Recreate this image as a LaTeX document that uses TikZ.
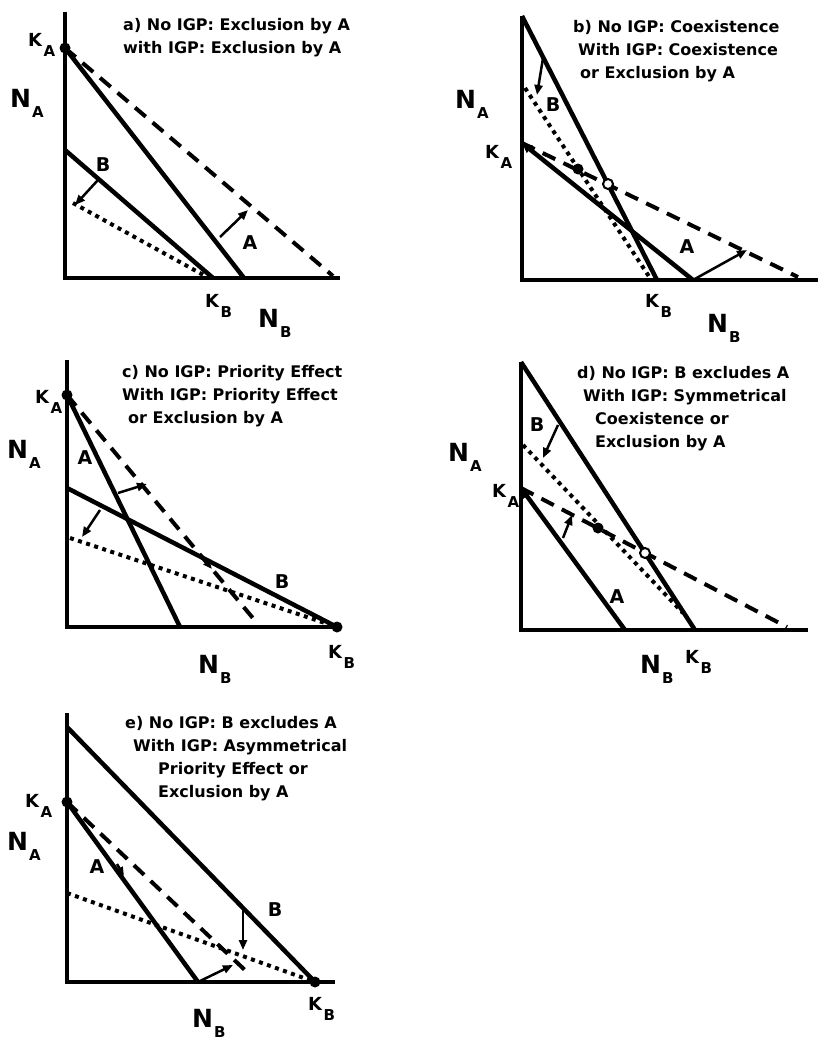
\documentclass[tikz,border=0pt]{standalone}
\usepackage{fontspec}
\setmainfont{DejaVu Sans}
\usetikzlibrary{arrows.meta}
\newcommand{\Nsub}[2]{{\fontsize{25}{25}\selectfont #1}\kern1pt\raisebox{-10pt}{\fontsize{15}{15}\selectfont #2}}
\newcommand{\Ksub}[2]{{\fontsize{18}{18}\selectfont #1}\kern1.5pt\raisebox{-10pt}{\fontsize{15}{15}\selectfont #2}}
\tikzset{
	axisline/.style={line width=4.5pt, line join=miter},
	iso/.style={line width=4.5pt},
	isodash/.style={line width=4pt, dash pattern=on 14pt off 9pt},
	isodot/.style={line width=4pt, dash pattern=on 4pt off 4.5pt},
	push/.style={line width=2.5pt, -{Triangle[length=10pt,width=8pt]}},
	minitip/.style={line width=2.5pt, -{Triangle[length=9pt,width=7pt]}},
	eq/.style={circle, fill=black, inner sep=0pt, minimum size=11pt},
	eqopen/.style={circle, draw, line width=2pt, fill=white, inner sep=0pt, minimum size=10pt},
	paneltitle/.style={anchor=north west, align=left, inner sep=0pt,
		font=\bfseries\fontsize{16}{23}\selectfont},
	lab/.style={anchor=base west, inner sep=0pt, font=\bfseries},
	linelab/.style={inner sep=0pt, font=\bfseries\fontsize{19}{19}\selectfont}
}
\begin{document}
\begin{tikzpicture}[x=1pt, y=-1pt]
	\useasboundingbox (0,0) rectangle (819,1041);

	% a)
	\coordinate (a-top) at (65,12);
	\coordinate (a-o) at (65,278);
	\coordinate (a-end) at (340,278);
	\coordinate (a-KA) at (65,48);
	\coordinate (a-KB) at (213,278);
	\coordinate (a-Ax) at (244,278);
	\coordinate (a-By) at (65,150);
	\draw[axisline] (a-top) -- (a-o) -- (a-end);
	\draw[iso] (a-KA) -- (a-Ax);
	\draw[iso] (a-By) -- (a-KB);
	\draw[isodash] (a-KA) -- (333,276);
	\draw[isodot] (73,203) -- (207,277);
	\draw[push] (98,180) -- (75,205);
	\draw[push] (220,237) -- (248,210);
	\node[eq] (a-dot) at (a-KA) {};
	\node[linelab] (a-B) at (103,165) {B};
	\node[linelab] (a-A) at (250,243) {A};
	\node[lab] (a-NA) at (10,107) {\Nsub{N}{A}};
	\node[lab] (a-KAl) at (28,47) {\Ksub{K}{A}};
	\node[lab] (a-KBl) at (205,307) {\Ksub{K}{B}};
	\node[lab] (a-NB) at (258,327) {\Nsub{N}{B}};
	\node[paneltitle] (a-title) at (123,18) {a) No IGP: Exclusion by A\\with IGP: Exclusion by A};

	% b)
	\coordinate (b-top) at (522,16);
	\coordinate (b-o) at (522,280);
	\coordinate (b-end) at (818,280);
	\coordinate (b-KA) at (522,143);
	\coordinate (b-KB) at (657,280);
	\coordinate (b-Ax) at (693,280);
	\draw[axisline] (b-top) -- (b-o) -- (b-end);
	\draw[iso] (b-top) -- (b-KB);
	\draw[isodot] (525,88) -- (650,278);
	\draw[isodash] (b-KA) -- (798,277);
	\draw[iso, {Triangle[length=10pt,width=9pt]}-] (b-KA) -- (b-Ax);
	\draw[push] (543,58) -- (537,95);
	\draw[push] (b-Ax) -- (747,250);
	\node[eq] (b-stable) at (578,169) {};
	\node[eqopen] (b-unstable) at (608,184) {};
	\node[linelab] (b-B) at (553,105) {B};
	\node[linelab] (b-A) at (687,247) {A};
	\node[lab] (b-NA) at (455,108) {\Nsub{N}{A}};
	\node[lab] (b-KAl) at (485,158) {\Ksub{K}{A}};
	\node[lab] (b-KBl) at (645,307) {\Ksub{K}{B}};
	\node[lab] (b-NB) at (707,332) {\Nsub{N}{B}};
	\node[paneltitle] (b-title) at (573,20) {b) No IGP: Coexistence\\
		\hspace*{5pt}With IGP: Coexistence\\\hspace*{7pt}or Exclusion by A};

	% c)
	\coordinate (c-top) at (67,360);
	\coordinate (c-o) at (67,627);
	\coordinate (c-KA) at (67,395);
	\coordinate (c-KB) at (337,627);
	\coordinate (c-Ax) at (180,627);
	\coordinate (c-By) at (67,488);
	\draw[axisline] (c-top) -- (c-o) -- (c-KB);
	\draw[iso] (c-KA) -- (c-Ax);
	\draw[iso] (c-By) -- (c-KB);
	\draw[isodash] (c-KA) -- (257,623);
	\draw[isodot] (70,538) -- (c-KB);
	\draw[push] (118,493) -- (147,484);
	\draw[push] (100,510) -- (82,537);
	\draw[minitip] (201,556) -- (212,569);
	\node[eq] (c-dotA) at (c-KA) {};
	\node[eq] (c-dotB) at (c-KB) {};
	\node[linelab] (c-A) at (85,458) {A};
	\node[linelab] (c-B) at (282,582) {B};
	\node[lab] (c-NA) at (7,458) {\Nsub{N}{A}};
	\node[lab] (c-KAl) at (35,403) {\Ksub{K}{A}};
	\node[lab] (c-NB) at (198,673) {\Nsub{N}{B}};
	\node[lab] (c-KBl) at (328,658) {\Ksub{K}{B}};
	\node[paneltitle] (c-title) at (122,365) {c) No IGP: Priority Effect\\
		With IGP: Priority Effect\\\hspace*{6pt}or Exclusion by A};

	% d)
	\coordinate (d-top) at (521,362);
	\coordinate (d-o) at (521,630);
	\coordinate (d-end) at (808,630);
	\coordinate (d-KA) at (521,488);
	\coordinate (d-KB) at (695,630);
	\coordinate (d-Ax) at (625,630);
	\draw[axisline] (d-top) -- (d-o) -- (d-end);
	\draw[iso] (d-top) -- (d-KB);
	\draw[isodot] (523,445) -- (683,613);
	\draw[isodash] (d-KA) -- (787,627);
	\draw[iso, {Triangle[length=10pt,width=9pt]}-] (d-KA) -- (d-Ax);
	\draw[push] (558,425) -- (543,458);
	\draw[push] (563,538) -- (572,515);
	\node[eq] (d-stable) at (598,528) {};
	\node[eqopen] (d-unstable) at (645,553) {};
	\node[linelab] (d-B) at (537,425) {B};
	\node[linelab] (d-A) at (617,597) {A};
	\node[lab] (d-NA) at (448,461) {\Nsub{N}{A}};
	\node[lab] (d-KAl) at (492,497) {\Ksub{K}{A}};
	\node[lab] (d-KBl) at (685,663) {\Ksub{K}{B}};
	\node[lab] (d-NB) at (640,673) {\Nsub{N}{B}};
	\node[paneltitle] (d-title) at (577,366) {d) No IGP: B excludes A\\
		\hspace*{6pt}With IGP: Symmetrical\\\hspace*{18pt}Coexistence or\\\hspace*{18pt}Exclusion by A};

	% e)
	\coordinate (e-top) at (67,713);
	\coordinate (e-o) at (67,982);
	\coordinate (e-end) at (335,982);
	\coordinate (e-KA) at (67,802);
	\coordinate (e-KB) at (315,982);
	\coordinate (e-Ax) at (198,982);
	\coordinate (e-By) at (67,727);
	\draw[axisline] (e-top) -- (e-o) -- (e-end);
	\draw[iso] (e-By) -- (e-KB);
	\draw[iso] (e-KA) -- (e-Ax);
	\draw[isodash] (e-KA) -- (247,972);
	\draw[isodot] (67,893) -- (e-KB);
	\draw[push] (e-Ax) -- (233,965);
	\draw[push] (243,910) -- (243,950);
	\draw[minitip] (117,864) -- (124,876);
	\node[eq] (e-dotA) at (e-KA) {};
	\node[eq] (e-dotB) at (e-KB) {};
	\node[linelab] (e-A) at (97,867) {A};
	\node[linelab] (e-B) at (275,910) {B};
	\node[lab] (e-KAl) at (25,807) {\Ksub{K}{A}};
	\node[lab] (e-NA) at (7,850) {\Nsub{N}{A}};
	\node[lab] (e-NB) at (192,1027) {\Nsub{N}{B}};
	\node[lab] (e-KBl) at (308,1010) {\Ksub{K}{B}};
	\node[paneltitle] (e-title) at (125,716) {e) No IGP: B excludes A\\
		\hspace*{8pt}With IGP: Asymmetrical\\\hspace*{33pt}Priority Effect or\\\hspace*{33pt}Exclusion by A};
\end{tikzpicture}
\end{document}
